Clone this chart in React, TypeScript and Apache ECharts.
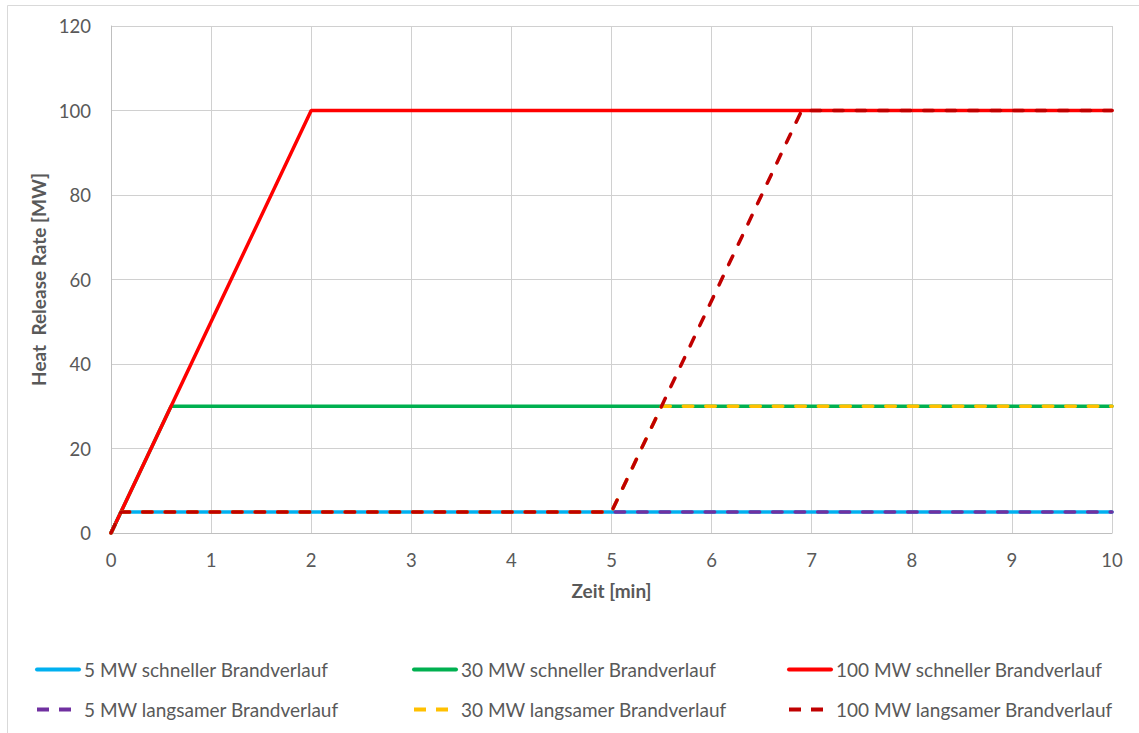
import React, { useEffect, useRef } from "react";
import * as echarts from "echarts";

const seriesNames = [
  "5 MW schneller Brandverlauf",
  "30 MW schneller Brandverlauf",
  "100 MW schneller Brandverlauf",
  "5 MW langsamer Brandverlauf",
  "30 MW langsamer Brandverlauf",
  "100 MW langsamer Brandverlauf",
];

const fast5Time = [0, 0.1, 10];
const fast5Hrr = [0, 5, 5];
const fast30Time = [0, 0.6, 10];
const fast30Hrr = [0, 30, 30];
const fast100Time = [0, 2, 10];
const fast100Hrr = [0, 100, 100];
const slow5Time = [0, 0.1, 10];
const slow5Hrr = [0, 5, 5];
const slow30Time = [0, 0.1, 5, 5.5, 10];
const slow30Hrr = [0, 5, 5, 30, 30];
const slow100Time = [0, 0.1, 5, 6.9, 10];
const slow100Hrr = [0, 5, 5, 100, 100];

const xTicks = [0, 1, 2, 3, 4, 5, 6, 7, 8, 9, 10];
const yTicks = [0, 20, 40, 60, 80, 100, 120];

const colors = ["#00B0F0", "#00B050", "#FF0000", "#7030A0", "#FFC000", "#C00000"];
const dashed = [false, false, false, true, true, true];

const zip = (xs: number[], ys: number[]) => xs.map((x, i) => [x, ys[i]]);

const allData = [
  zip(fast5Time, fast5Hrr),
  zip(fast30Time, fast30Hrr),
  zip(fast100Time, fast100Hrr),
  zip(slow5Time, slow5Hrr),
  zip(slow30Time, slow30Hrr),
  zip(slow100Time, slow100Hrr),
];

const FONT = "Lato";
const TXT = "#595959";

export default function App() {
  const ref = useRef<HTMLDivElement>(null);
  useEffect(() => {
    if (!ref.current) return;
    const chart = echarts.init(ref.current, null, { renderer: "svg" });
    const legendCols = [35, 412, 787];
    const legendRows = [670, 710];
    const legends: any[] = [];
    seriesNames.forEach((name, i) => {
      const col = i % 3;
      const row = Math.floor(i / 3);
      legends.push({
        orient: "horizontal",
        left: legendCols[col],
        top: legendRows[row] - 10,
        padding: 0,
        itemWidth: 42,
        itemHeight: 20,
        textStyle: { fontFamily: FONT, fontSize: 19, color: TXT },
        itemStyle: { opacity: 0 },
        data: [
          {
            name,
            itemStyle: { opacity: 0 },
            lineStyle: dashed[i]
              ? { type: [12, 10], width: 4, cap: "butt", color: colors[i] }
              : { type: "solid", width: 4, cap: "round", color: colors[i] },
          },
        ],
      });
    });
    chart.setOption({
      animation: false,
      backgroundColor: "#ffffff",
      graphic: [
        {
          type: "rect",
          shape: { x: 7.5, y: 5.5, width: 1200, height: 800 },
          style: { fill: "none", stroke: "#D9D9D9", lineWidth: 1 },
          silent: true,
          z: -1,
        },
      ],
      grid: { left: 111, right: 27, top: 26, bottom: 200, containLabel: false },
      xAxis: {
        type: "value",
        min: xTicks[0],
        max: xTicks[xTicks.length - 1],
        interval: 1,
        name: "Zeit [min]",
        nameLocation: "middle",
        nameGap: 48,
        nameTextStyle: { fontFamily: FONT, fontSize: 19, fontWeight: "bold", color: TXT },
        axisLine: { show: true, onZero: false, lineStyle: { color: "#BFBFBF", width: 1 } },
        axisTick: { show: false },
        axisLabel: { fontFamily: FONT, fontSize: 18.5, color: TXT, margin: 17 },
        splitLine: { show: true, lineStyle: { color: "#D0D0D0", width: 1 } },
      },
      yAxis: {
        type: "value",
        min: yTicks[0],
        max: yTicks[yTicks.length - 1],
        interval: 20,
        name: "Heat  Release Rate [MW]",
        nameLocation: "middle",
        nameGap: 60,
        nameRotate: 90,
        nameTextStyle: { fontFamily: FONT, fontSize: 19, fontWeight: "bold", color: TXT },
        axisLine: { show: true, lineStyle: { color: "#BFBFBF", width: 1 } },
        axisTick: { show: false },
        axisLabel: { fontFamily: FONT, fontSize: 18.5, color: TXT, margin: 20 },
        splitLine: { show: true, lineStyle: { color: "#D0D0D0", width: 1 } },
      },
      legend: legends,
      series: allData.map((data, i) => ({
        name: seriesNames[i],
        type: "line",
        data,
        symbol: "none",
        color: colors[i],
        lineStyle: {
          color: colors[i],
          width: 3.5,
          type: dashed[i] ? [9.5, 13] : "solid",
          cap: "round",
        },
        z: 2 + i,
      })),
    });
    return () => chart.dispose();
  }, []);
  return (
    <div
      ref={ref}
      style={{ position: "absolute", left: 0, top: 0, width: 1139, height: 733 }}
    />
  );
}
